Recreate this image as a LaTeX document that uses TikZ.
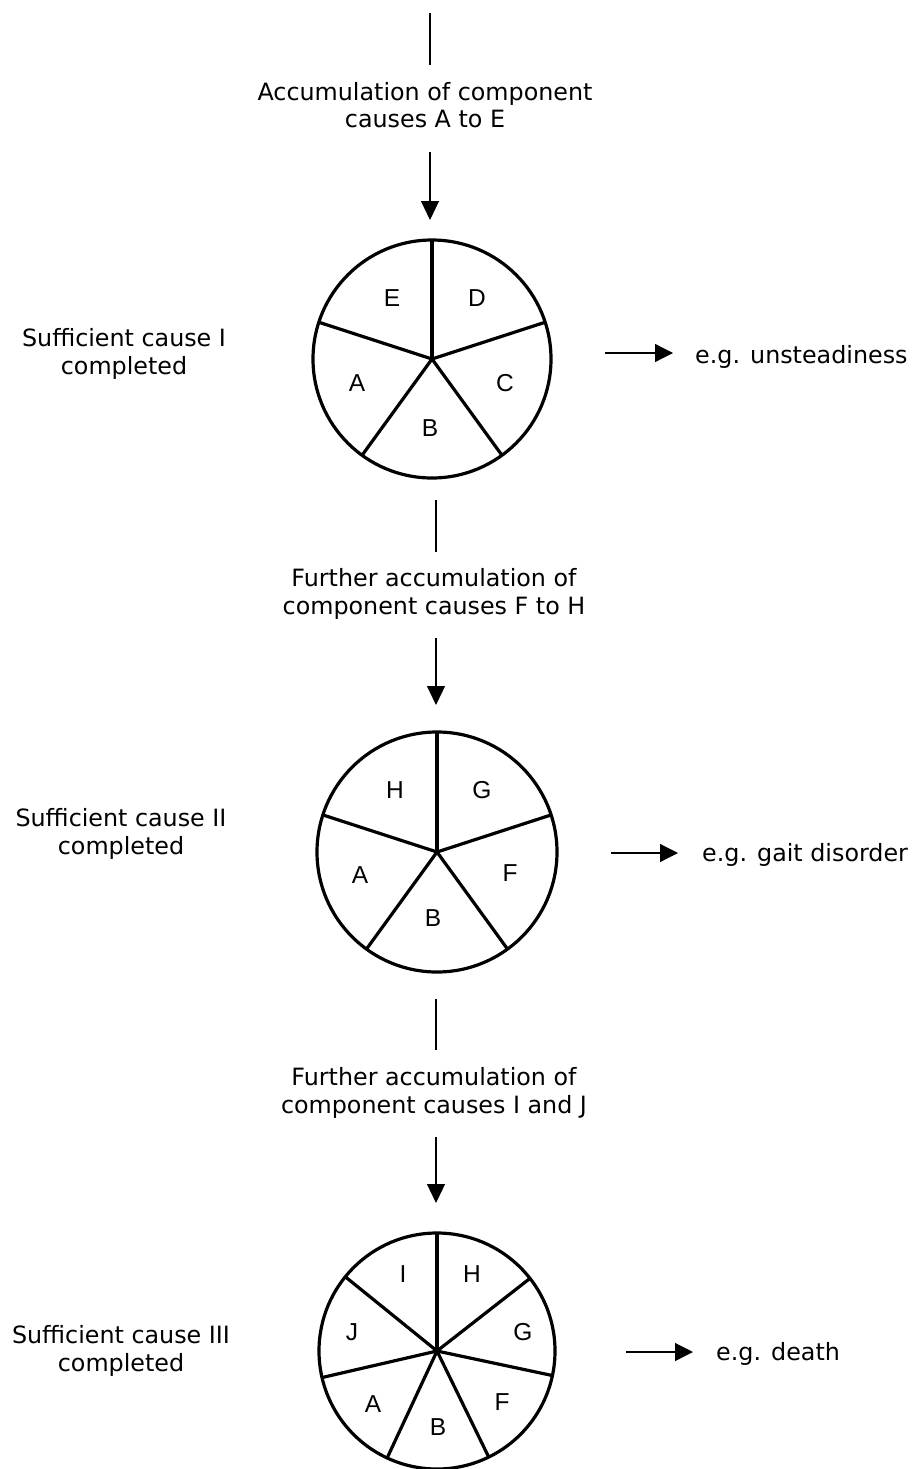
\documentclass[tikz,border=0pt]{standalone}
\usepackage{fontspec}
\setmainfont{DejaVu Sans}
\newfontfamily\letterfont{Liberation Sans}
\usetikzlibrary{arrows.meta,calc}
\begin{document}
\begin{tikzpicture}[x=1pt,y=-1pt,
  lbl/.style={font=\fontsize{23.8}{27.5}\selectfont, align=center, inner sep=0pt},
  pie/.style={circle, draw, line width=3.2pt, minimum size=#1, inner sep=0pt, outer sep=0pt},
  spoke/.style={line width=3.2pt},
  lettr/.style={font=\letterfont\fontsize{24.5}{24.5}\selectfont, inner sep=0pt},
  conn/.style={line width=1.2pt},
  varrow/.style={conn, -{Triangle[length=19pt,width=18pt]}},
  harrow/.style={conn, -{Triangle[length=18pt,width=18pt]}},
]
\useasboundingbox (0,0) rectangle (911,1469);

% ---------- stage 1 ----------
\coordinate (l1s) at (430,13);
\coordinate (l1e) at (430,65);
\draw[conn] (l1s) -- (l1e);
\node[lbl, anchor=base] (t1) at (425,128) {Accumulation of component\\causes A to E};
\coordinate (a1s) at (430,152);
\coordinate (a1e) at (430,220);
\draw[varrow] (a1s) -- (a1e);

\node[pie=238pt] (c1) at (432,359) {};
\foreach \a in {90,162,234,306,18} \draw[spoke] (c1.center) -- (c1.\a);
\node[lettr] (c1e) at ($(c1.center)+(-40pt,61pt)$) {E};
\node[lettr] (c1d) at ($(c1.center)+(45pt,61pt)$) {D};
\node[lettr] (c1a) at ($(c1.center)+(-75pt,-24pt)$) {A};
\node[lettr] (c1c) at ($(c1.center)+(73pt,-24pt)$) {C};
\node[lettr] (c1b) at ($(c1.center)+(-2pt,-69pt)$) {B};

\node[lbl, anchor=base] (s1) at (124,374) {Sufficient cause I\\completed};
\coordinate (r1s) at (605,353);
\coordinate (r1e) at (673,353);
\draw[harrow] (r1s) -- (r1e);
\node[lbl, anchor=base west] (o1) at (695,363) {e.g. unsteadiness};

% ---------- stage 2 ----------
\coordinate (l2s) at (436,500);
\coordinate (l2e) at (436,552);
\draw[conn] (l2s) -- (l2e);
\node[lbl, anchor=base] (t2) at (434,614) {Further accumulation of\\component causes F to H};
\coordinate (a2s) at (436,638);
\coordinate (a2e) at (436,705);
\draw[varrow] (a2s) -- (a2e);

\node[pie=240pt] (c2) at (437,852) {};
\foreach \a in {90,162,234,306,18} \draw[spoke] (c2.center) -- (c2.\a);
\node[lettr] (c2h) at ($(c2.center)+(-42pt,62pt)$) {H};
\node[lettr] (c2g) at ($(c2.center)+(45pt,62pt)$) {G};
\node[lettr] (c2a) at ($(c2.center)+(-77pt,-23pt)$) {A};
\node[lettr] (c2f) at ($(c2.center)+(73pt,-21pt)$) {F};
\node[lettr] (c2b) at ($(c2.center)+(-4pt,-66pt)$) {B};

\node[lbl, anchor=base] (s2) at (121,854) {Sufficient cause II\\completed};
\coordinate (r2s) at (611,853);
\coordinate (r2e) at (678,853);
\draw[harrow] (r2s) -- (r2e);
\node[lbl, anchor=base west] (o2) at (702,861) {e.g. gait disorder};

% ---------- stage 3 ----------
\coordinate (l3s) at (436,999);
\coordinate (l3e) at (436,1050);
\draw[conn] (l3s) -- (l3e);
\node[lbl, anchor=base] (t3) at (434,1113) {Further accumulation of\\component causes I and J};
\coordinate (a3s) at (436,1137);
\coordinate (a3e) at (436,1203);
\draw[varrow] (a3s) -- (a3e);

\node[pie=236pt] (c3) at (437,1351) {};
\foreach \a in {90,38.571,-12.857,-64.286,-115.714,-167.143,141.429} \draw[spoke] (c3.center) -- (c3.\a);
\node[lettr] (c3i) at ($(c3.center)+(-34pt,77pt)$) {I};
\node[lettr] (c3h) at ($(c3.center)+(35pt,77pt)$) {H};
\node[lettr] (c3g) at ($(c3.center)+(86pt,19pt)$) {G};
\node[lettr] (c3j) at ($(c3.center)+(-85pt,19pt)$) {J};
\node[lettr] (c3a) at ($(c3.center)+(-64pt,-53pt)$) {A};
\node[lettr] (c3f) at ($(c3.center)+(65pt,-51pt)$) {F};
\node[lettr] (c3b) at ($(c3.center)+(1pt,-76pt)$) {B};

\node[lbl, anchor=base] (s3) at (121,1371) {Sufficient cause III\\completed};
\coordinate (r3s) at (626,1352);
\coordinate (r3e) at (693,1352);
\draw[harrow] (r3s) -- (r3e);
\node[lbl, anchor=base west] (o3) at (716,1360) {e.g. death};
\end{tikzpicture}
\end{document}
